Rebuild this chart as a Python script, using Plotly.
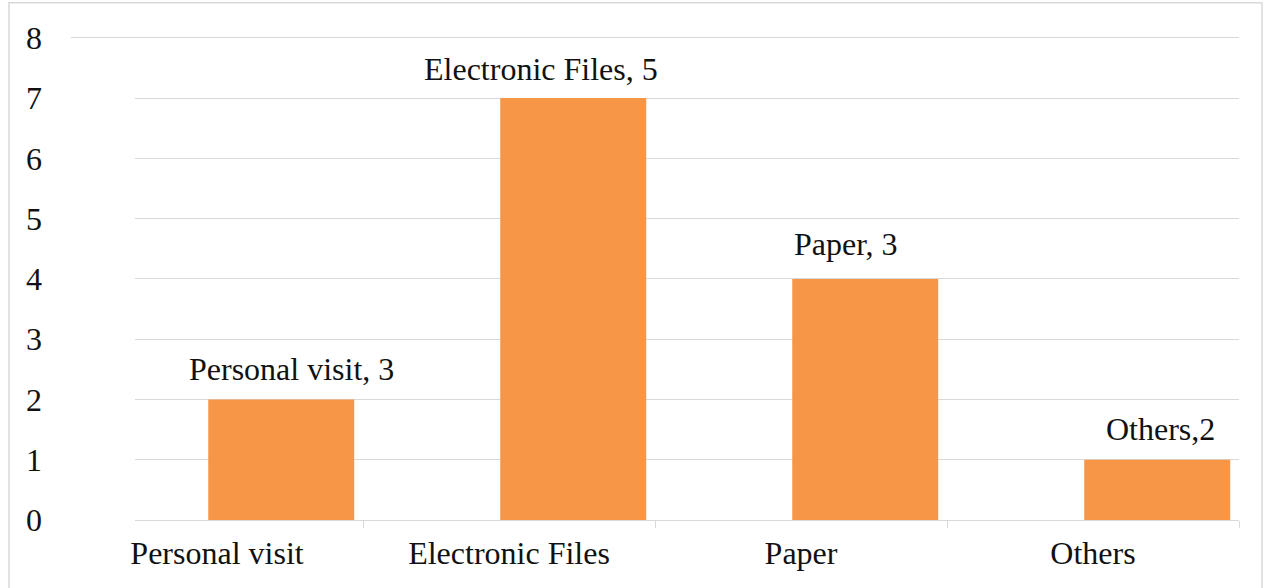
import plotly.graph_objects as go

categories = ["Personal visit", "Electronic Files", "Paper", "Others"]
values = [2, 7, 4, 1]
bar_labels = ["Personal visit, 3", "Electronic Files, 5", "Paper, 3", "Others,2"]
y_ticks = [0, 1, 2, 3, 4, 5, 6, 7, 8]

# style-only pixel nudges for the label placement (as in the reference)
label_xshift = [10, -32, -19, 3]
label_yshift = [10, 9, 15, 11]

FONT = "Liberation Serif"
GRID = "#D9D9D9"
FS = 32

fig = go.Figure()
fig.add_trace(go.Bar(
    x=categories, y=values,
    marker=dict(color="#F79646", line=dict(width=0)),
    width=0.5, offset=-0.03,
    showlegend=False, hoverinfo="skip",
))

for i, (c, v, t) in enumerate(zip(categories, values, bar_labels)):
    fig.add_annotation(
        x=i + 0.22, y=v, xref="x", yref="y", text=t, showarrow=False,
        yanchor="bottom", xanchor="center",
        xshift=label_xshift[i], yshift=label_yshift[i],
        font=dict(family=FONT, size=FS, color="#111111"),
    )

# outer chart border
fig.add_shape(type="rect", xref="paper", yref="paper",
              x0=-0.0531, x1=1.0197, y0=-0.16, y1=1.0685,
              line=dict(color=GRID, width=1.5), fillcolor="rgba(0,0,0,0)", layer="below")
# white mask where gridlines do not reach in the reference
fig.add_shape(type="rect", xref="paper", yref="paper",
              x0=-0.002, x1=0.0548, y0=-0.03, y1=0.92,
              line=dict(width=0), fillcolor="white", layer="above")

fig.update_layout(
    width=1270, height=588,
    margin=dict(l=71, r=31, t=36, b=68),
    paper_bgcolor="white", plot_bgcolor="white",
    font=dict(family=FONT, size=FS, color="#111111"),
    bargap=0.5,
    xaxis=dict(
        type="category", range=[-0.5, 3.5], automargin=False,
        showline=True, linecolor=GRID, linewidth=1.3,
        ticks="outside", tickson="boundaries", ticklen=7, tickcolor=GRID,
        tickfont=dict(family=FONT, size=FS, color="#111111"),
        ticklabelstandoff=4,
        showgrid=False, zeroline=False,
    ),
    yaxis=dict(
        range=[0, 8.03], tickvals=y_ticks, automargin=False,
        showgrid=True, gridcolor=GRID, gridwidth=1.3,
        zeroline=False, showline=False, ticks="",
        tickfont=dict(family=FONT, size=FS, color="#111111"),
        ticklabelstandoff=28,
    ),
)

fig.write_html("out.html",
               config={"displayModeBar": False},
               post_script="document.body.style.margin='0';document.body.style.overflow='hidden';")
